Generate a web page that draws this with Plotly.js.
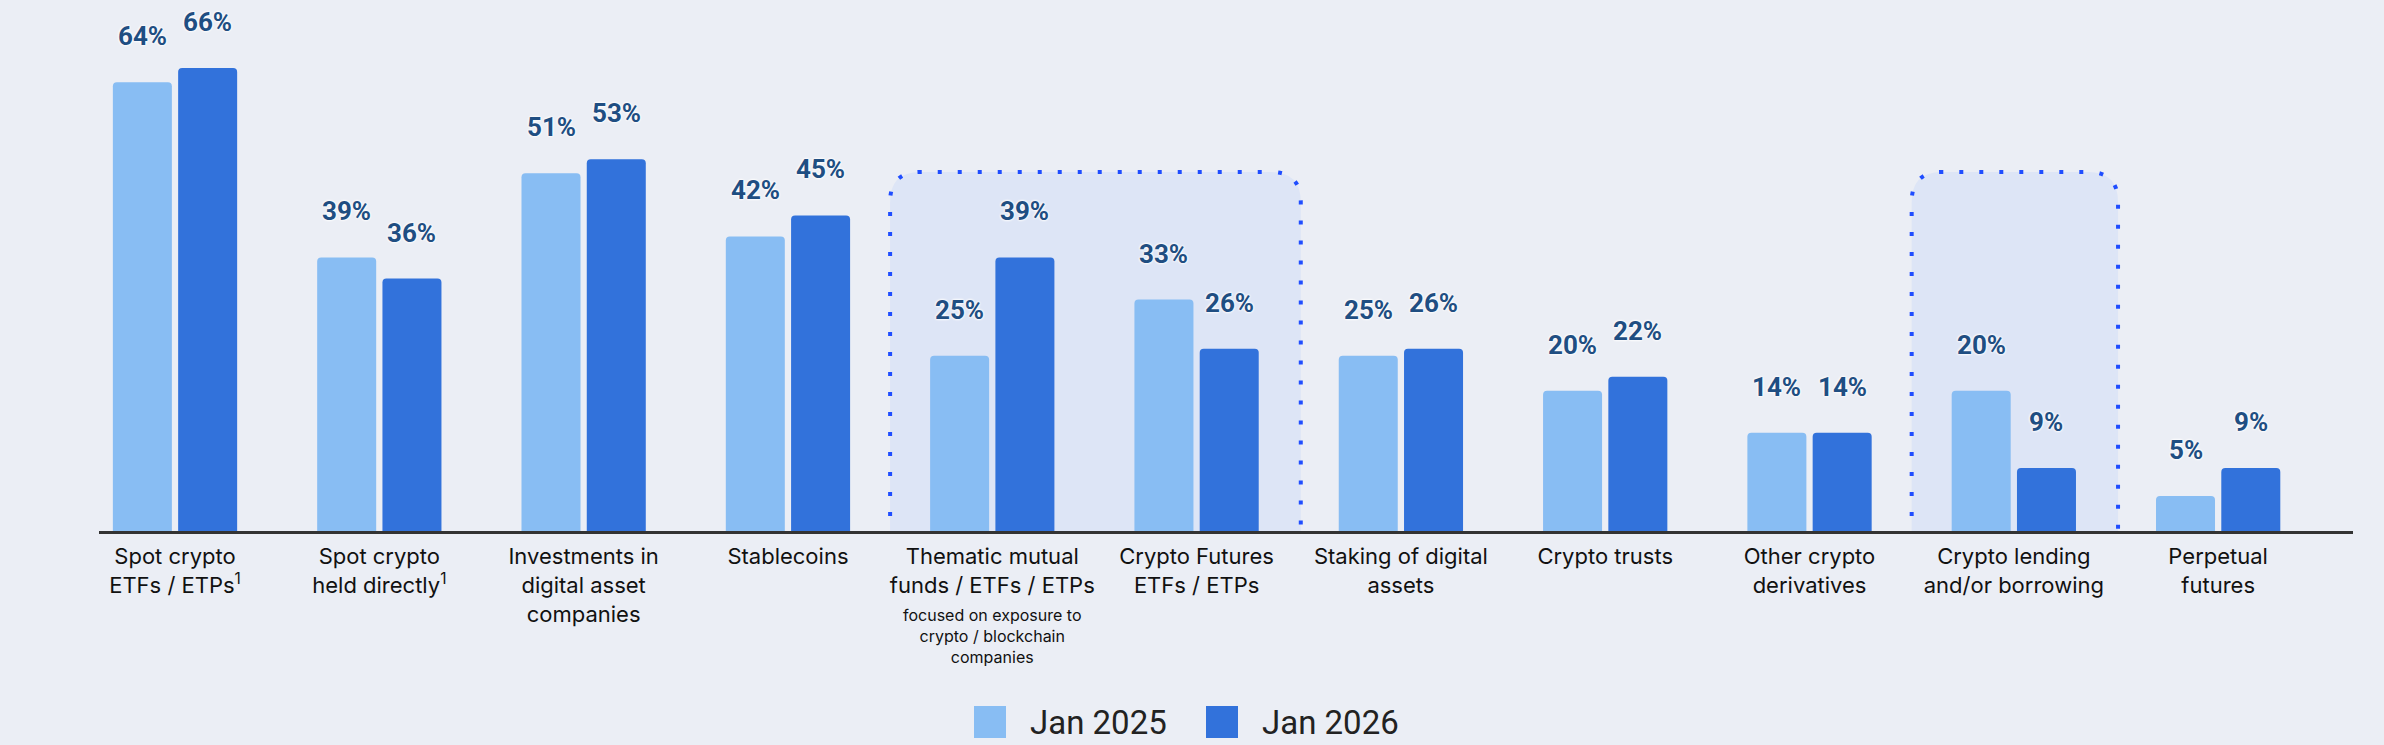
<!DOCTYPE html>
<html>
<head>
<meta charset="utf-8">
<script src="https://cdn.plot.ly/plotly-3.0.1.min.js"></script>
<style>
	html, body { margin: 0; padding: 0; background: #ebeef5; }
</style>
</head>
<body>
<div id="chart" style="width:2384px;height:745px;"></div>
<script>
// categories as they appear under the axis
var categories = [
	"Spot crypto<br>ETFs / ETPs<sup>1</sup>",
	"Spot crypto<br>held directly<sup>1</sup>",
	"Investments in<br>digital asset<br>companies",
	"Stablecoins",
	"Thematic mutual<br>funds / ETFs / ETPs",
	"Crypto Futures<br>ETFs / ETPs",
	"Staking of digital<br>assets",
	"Crypto trusts",
	"Other crypto<br>derivatives",
	"Crypto lending<br>and/or borrowing",
	"Perpetual<br>futures"
];

var series_names = ["Jan 2025", "Jan 2026"];
var jan_2025 = [64, 39, 51, 42, 25, 33, 25, 20, 14, 20, 5];
var jan_2026 = [66, 36, 53, 45, 39, 26, 26, 22, 14, 9, 9];

// groups of categories framed by a dotted box (first index, last index)
var highlighted = [[4, 5], [9, 9]];
var thematic_note = "focused on exposure to<br>crypto / blockchain<br>companies";

const colors = ["#88bdf3", "#3272db"];
const bg = "#ebeef5";

const W = 2384, H = 745;
const margin = {l: 99, r: 31, t: 5, b: 214};
const x_range = [-0.372, 10.66];
const y_range = [0, 75];
const px_x = (W - margin.l - margin.r) / (x_range[1] - x_range[0]);
const px_y = (H - margin.t - margin.b) / (y_range[1] - y_range[0]);

function box_path(first, last)
{
	var xl = first - 0.5;
	var xr = last + 0.51;
	var yt = 51.2;
	var yb = -0.7;
	var rx = 30 / px_x;
	var ry = 30 / px_y;
	return "M" + xl + "," + yb +
		" L" + xl + "," + (yt - ry) +
		" Q" + xl + "," + yt + " " + (xl + rx) + "," + yt +
		" L" + (xr - rx) + "," + yt +
		" Q" + xr + "," + yt + " " + xr + "," + (yt - ry) +
		" L" + xr + "," + yb + " Z";
}

var all_values = [jan_2025, jan_2026];

var traces = all_values.map(function(vals, k)
{
	return {
		type: "bar",
		name: series_names[k],
		x: categories,
		y: vals,
		marker: {color: colors[k], line: {width: 0}},
		hoverinfo: "y+name",
		showlegend: false
	};
});

var annotations = [];
var offset = 32.6;
all_values.forEach(function(vals, k)
{
	vals.forEach(function(v, i)
	{
		annotations.push({
			x: categories[i],
			y: v,
			xref: "x",
			yref: "y",
			text: v + "%",
			showarrow: false,
			xanchor: "center",
			yanchor: "bottom",
			xshift: k == 0 ? -offset : offset,
			yshift: 29,
			font: {
				family: "Roboto, sans-serif",
				size: 26,
				weight: 700,
				color: "#1f4e82",
				shadow: "0px 0px 3px #ffffff, 0px 0px 3px #ffffff, 0px 0px 2px #ffffff"
			}
		});
	});
});

// small note under the thematic funds label
annotations.push({
	x: categories[4],
	y: 0,
	xref: "x",
	yref: "paper",
	text: thematic_note,
	showarrow: false,
	xanchor: "center",
	yanchor: "top",
	yshift: -72,
	font: {family: "Inter, sans-serif", size: 16, color: "#111111"}
});

var shapes = highlighted.map(function(g)
{
	return {
		type: "path",
		xref: "x",
		yref: "y",
		path: box_path(g[0], g[1]),
		fillcolor: "#dde5f6",
		line: {color: "#1f4dff", width: 4, dash: "4px,16px"},
		layer: "below"
	};
});

// legend drawn by hand so the swatches can be as big as in the reference
var plot_w = W - margin.l - margin.r;
var plot_h = H - margin.t - margin.b;
var legend_x = [974, 1206];
var legend_y = 722;
series_names.forEach(function(name, k)
{
	var x0 = (legend_x[k] - margin.l) / plot_w;
	var x1 = (legend_x[k] + 32 - margin.l) / plot_w;
	var yc = (H - margin.b - legend_y) / plot_h;
	var half = 16 / plot_h;
	shapes.push({
		type: "rect",
		xref: "paper",
		yref: "paper",
		x0: x0, x1: x1,
		y0: yc - half, y1: yc + half,
		fillcolor: colors[k],
		line: {width: 0}
	});
	annotations.push({
		x: (legend_x[k] + 54 - margin.l) / plot_w,
		y: yc,
		xref: "paper",
		yref: "paper",
		text: name,
		showarrow: false,
		xanchor: "left",
		yanchor: "middle",
		font: {family: "Roboto, sans-serif", size: 33, color: "#222222"}
	});
});

var layout = {
	width: W,
	height: H,
	margin: margin,
	paper_bgcolor: bg,
	plot_bgcolor: bg,
	barmode: "group",
	bargap: 0.361,
	bargroupgap: 0.096,
	barcornerradius: 4,
	showlegend: false,
	xaxis: {
		type: "category",
		range: x_range,
		showline: true,
		linecolor: "#333333",
		linewidth: 3,
		showgrid: false,
		zeroline: false,
		ticks: "",
		tickfont: {family: "Inter, sans-serif", size: 22, color: "#111111"},
		ticklabelstandoff: 4,
		fixedrange: true
	},
	yaxis: {
		range: y_range,
		visible: false,
		showgrid: false,
		zeroline: false,
		fixedrange: true
	},
	annotations: annotations,
	shapes: shapes
};

Plotly.newPlot("chart", traces, layout, {displayModeBar: false, staticPlot: true});
</script>
</body>
</html>
